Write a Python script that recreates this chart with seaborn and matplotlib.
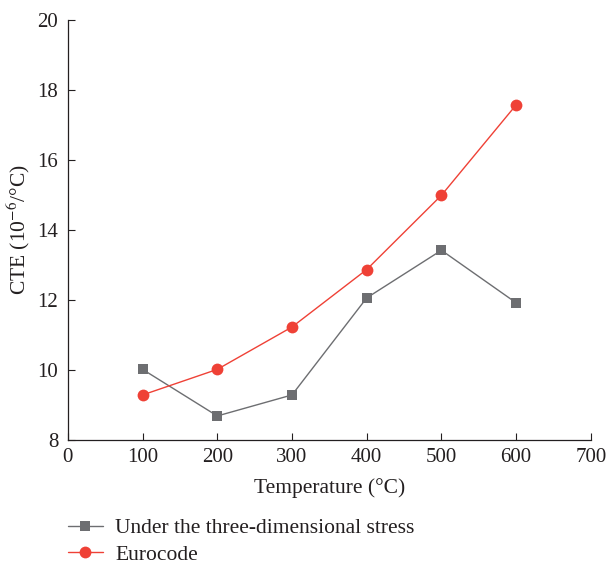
import matplotlib
matplotlib.use("Agg")
import matplotlib.pyplot as plt
import seaborn as sns
import pandas as pd

temperature = [100, 200, 300, 400, 500, 600]
cte_3d = [10.02, 8.69, 9.29, 12.06, 13.42, 11.92]
cte_euro = [9.29, 10.02, 11.23, 12.87, 14.99, 17.57]
series_names = ["Under the three-dimensional stress", "Eurocode"]
x_ticks = [0, 100, 200, 300, 400, 500, 600, 700]
y_ticks = [8, 10, 12, 14, 16, 18, 20]

sns.set_style("ticks")
plt.rcParams['font.family'] = ['Liberation Serif', 'DejaVu Serif']
plt.rcParams['mathtext.fontset'] = 'stix'

fig = plt.figure(figsize=(6.06, 5.65), dpi=100)
ax = fig.add_axes([0.112, 0.221, 0.863, 0.744])

df1 = pd.DataFrame({"T": temperature, "CTE": cte_3d})
df2 = pd.DataFrame({"T": temperature, "CTE": cte_euro})
sns.lineplot(data=df1, x="T", y="CTE", ax=ax, color="#6d6e71", marker="s",
             markersize=7, markeredgewidth=0, linewidth=1.0, label=series_names[0])
sns.lineplot(data=df2, x="T", y="CTE", ax=ax, color="#ef4136", marker="o",
             markersize=8.5, markeredgewidth=0, linewidth=1.0, label=series_names[1])

ax.set_xlim(0, 700)
ax.set_ylim(8, 20)
ax.set_xticks(x_ticks)
ax.set_yticks(y_ticks)
ax.tick_params(direction="in", length=5, width=0.8, labelsize=15, colors="#231f20")
ax.tick_params(axis="x", pad=6)
ax.tick_params(axis="y", pad=7)
for s in ["top", "right"]:
    ax.spines[s].set_visible(False)
for s in ["left", "bottom"]:
    ax.spines[s].set_color("#231f20")
    ax.spines[s].set_linewidth(0.9)

ax.set_xlabel("Temperature (°C)", fontsize=15.5, color="#231f20", labelpad=8)
ax.set_ylabel("CTE (10$^{-6}$/°C)", fontsize=15.5, color="#231f20", labelpad=4)

leg = ax.legend(loc="upper left", bbox_to_anchor=(-0.016, -0.165), frameon=False,
                fontsize=15.5, handlelength=1.6, handletextpad=0.6, labelspacing=0.3,
                borderaxespad=0)
for t in leg.get_texts():
    t.set_color("#231f20")

fig.savefig("out.png", dpi=100)
